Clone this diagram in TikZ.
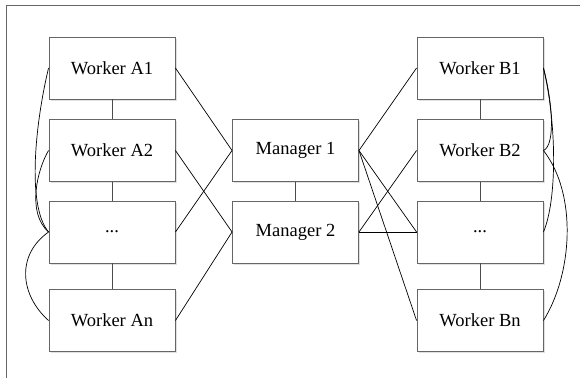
\documentclass[tikz,border=0pt]{standalone}
\usepackage{fontspec}
\setmainfont{Liberation Serif}
\usetikzlibrary{shadows}
\begin{document}
\begin{tikzpicture}[x=1pt,y=-1pt,
  box/.style={draw=black!60,line width=0.9pt,fill=white,minimum width=126pt,minimum height=62pt,
    font=\fontsize{18.5}{20}\selectfont,
    drop shadow={shadow xshift=1.5pt,shadow yshift=-1.5pt,fill=black!12,opacity=1}},
  link/.style={draw=black,line width=0.7pt},
  vlink/.style={draw=black!70,line width=1pt}]
\useasboundingbox (0,0) rectangle (580,378);
\draw[black!60,line width=1pt] (6,378) -- (6,5) -- (580,5);
% left workers
\node[box] (A1) at (112,68) {Worker A1};
\node[box] (A2) at (112,150.5) {Worker A2};
\node[box] (AD) at (112,232) {...};
\node[box] (AN) at (112,320.5) {Worker An};
% managers
\node[box] (M1) at (295.5,150.5) {Manager 1};
\node[box] (M2) at (295.5,232) {Manager 2};
% right workers
\node[box] (B1) at (480,68) {Worker B1};
\node[box] (B2) at (480,150.5) {Worker B2};
\node[box] (BD) at (480,232) {...};
\node[box] (BN) at (480,320.5) {Worker Bn};
% vertical links
\draw[vlink] (A1) -- (A2); \draw[vlink] (A2) -- (AD); \draw[vlink] (AD) -- (AN);
\draw[vlink] (B1) -- (B2); \draw[vlink] (B2) -- (BD); \draw[vlink] (BD) -- (BN);
\draw[vlink] (M1) -- (M2);
% left to managers
\draw[link] (A1.east) -- (M1.west);
\draw[link] (AD.east) -- (M1.west);
\draw[link] (A2.east) -- (M2.west);
\draw[link] (AN.east) -- (M2.west);
% managers to right
\draw[link] (M1.east) -- (B1.west);
\draw[link] (M1.east) -- (BD.west);
\draw[link] (M1.east) -- (BN.west);
\draw[link] (M2.east) -- (B2.west);
\draw[link] (M2.east) -- (BD.west);
% left curves
\draw[link] (A1.west) .. controls (36,120) and (26,205) .. (AD.west);
\draw[link] (A2.west) .. controls (38,168) and (26,212) .. (AD.west);
\draw[link] (AD.west) .. controls (16,255) and (20,295) .. (AN.west);
% right curves
\draw[link] (B1.east) .. controls (552,100) and (556,145) .. (B2.east);
\draw[link] (B1.east) .. controls (557,125) and (557,200) .. (BD.east);
\draw[link] (B2.east) .. controls (578,195) and (572,275) .. (BN.east);
\end{tikzpicture}
\end{document}
